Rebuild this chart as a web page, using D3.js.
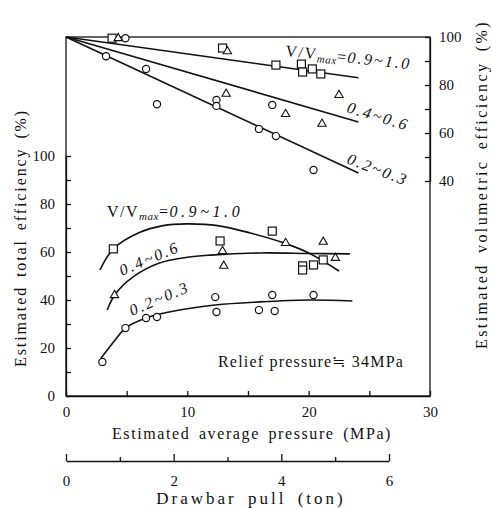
<!DOCTYPE html>
<meta charset="utf-8">
<script src="https://d3js.org/d3.v7.min.js"></script>
<body style="margin:0;background:#fff">
<div id="chart"></div>
<script>
// --- tick labels
var pressureTicks = [0, 10, 20, 30];
var totalTicks = [0, 20, 40, 60, 80, 100];
var volTicks = [40, 60, 80, 100];
var pullTicks = [0, 2, 4, 6];

// --- volumetric efficiency (right axis), straight fit lines [pressure, %]
var volLine90 = [[0, 100], [24.1, 83]];
var volLine40 = [[0, 100], [24.1, 64.6]];
var volLine20 = [[0, 100], [24.1, 43.3]];

var volSquares = [[3.8, 99.5], [12.9, 95.4], [17.3, 88.3], [19.4, 88.7], [19.5, 85.4], [20.3, 86.7], [21.0, 84.6]];
var volTriangles = [[4.3, 99.5], [13.3, 94], [13.2, 76.3], [18.1, 67.9], [21.1, 63.8], [22.5, 75.8]];
var volCircles = [[4.9, 99.5], [3.3, 92], [6.6, 86.7], [7.5, 72], [12.4, 73.8], [12.4, 71.3], [15.9, 61.7], [17.0, 71.7], [17.3, 58.7], [20.4, 44.6]];

// --- total efficiency (left axis), fitted curves
var totCurve90 = [[2.8, 52.5], [3.9, 61.3], [6, 68], [8, 71], [10, 71.7], [12.5, 71], [15.2, 67.9], [18, 63.7], [20, 59.6], [22.5, 52.1]];
var totCurve40 = [[3.4, 35.8], [4.0, 42], [5.5, 49.5], [7.7, 55.4], [10, 57.8], [11.9, 58.7], [16, 59.6], [20, 59.4], [23.4, 59.2]];
var totCurve20 = [[2.9, 15.8], [4.0, 23], [4.9, 28.3], [6.6, 32.5], [8.5, 35], [12.3, 37.9], [16, 39.2], [20, 40], [23.6, 39.6]];

var totSquares = [[3.9, 61.3], [12.7, 64.6], [17.0, 68.7], [19.5, 54.2], [19.5, 52.5], [20.4, 54.6], [21.2, 56.7]];
var totTriangles = [[4.0, 42], [12.9, 60.4], [13.0, 54.2], [18.1, 63.7], [21.2, 64.2], [22.2, 57.5]];
var totCircles = [[3.0, 14.2], [4.9, 28.3], [6.6, 32.5], [7.5, 32.9], [12.3, 41.2], [12.4, 35], [15.9, 35.8], [17.0, 42.1], [17.2, 35.4], [20.4, 42.1]];

var FONT = "'Liberation Serif'";
var INK = "#111";
var W = 492, H = 508;
var svg = d3.select("#chart").append("svg")
    .attr("width", W).attr("height", H);

var x = d3.scaleLinear().domain([0, 30]).range([66, 430]);
var yL = d3.scaleLinear().domain([0, 100]).range([396, 156]);
var yR = d3.scaleLinear().domain([40, 100]).range([181, 37]);
var pull = d3.scaleLinear().domain([0, 6]).range([66, 389]);

// frame
svg.append("rect")
    .attr("x", x(0)).attr("y", 37)
    .attr("width", x(30) - x(0)).attr("height", yL(0) - 37)
    .attr("fill", "none").attr("stroke", INK).attr("stroke-width", 1.3);

function styleAxis(g) {
    g.selectAll("path, line").attr("stroke", INK).attr("stroke-width", 1.3);
    g.selectAll("text").style("font-size", "15px").attr("fill", INK);
}

// bottom axis
svg.append("g")
    .attr("transform", "translate(0," + yL(0) + ")")
    .call(d3.axisBottom(x).tickValues(d3.range(0, 31, 5))
        .tickSizeInner(-5).tickSizeOuter(0).tickPadding(10)
        .tickFormat(function(d) { return pressureTicks.indexOf(d) >= 0 ? d : ""; }))
    .call(styleAxis);

// left axis
svg.append("g")
    .attr("transform", "translate(" + x(0) + ",0)")
    .call(d3.axisLeft(yL).tickValues(d3.range(0, 101, 10))
        .tickSizeInner(-5).tickSizeOuter(0).tickPadding(11)
        .tickFormat(function(d) { return totalTicks.indexOf(d) >= 0 ? d : ""; }))
    .call(styleAxis);

// right axis
svg.append("g")
    .attr("transform", "translate(" + x(30) + ",0)")
    .call(d3.axisRight(yR).tickValues(d3.range(40, 101, 10))
        .tickSizeInner(-5).tickSizeOuter(0).tickPadding(9)
        .tickFormat(function(d) { return volTicks.indexOf(d) >= 0 ? d : ""; }))
    .call(styleAxis);

// drawbar pull axis
var pullAxis = svg.append("g")
    .attr("transform", "translate(0,461)");
pullAxis.call(d3.axisBottom(pull).tickValues(d3.range(0, 7, 1))
    .tickSizeInner(-4).tickSizeOuter(0).tickPadding(14)
    .tickFormat(function(d) { return pullTicks.indexOf(d) >= 0 ? d : ""; }))
    .call(styleAxis);
pullAxis.selectAll(".tick line")
    .attr("y2", function(d) { return d % 2 == 0 ? -7 : -4; });

// axis titles
function title(tx, ty, ang, anchor, size, ls, ws, s) {
    svg.append("text")
        .attr("transform", "translate(" + tx + "," + ty + ") rotate(" + ang + ")")
        .attr("text-anchor", anchor).attr("fill", INK)
        .style("font-size", size + "px").style("letter-spacing", ls + "px").style("word-spacing", ws + "px")
        .text(s);
}
title(252, 439, 0, "middle", 16, 1.6, 3, "Estimated average pressure (MPa)");
title(251, 504, 0, "middle", 17, 3.0, 4, "Drawbar pull (ton)");
title(26, 367, -90, "start", 16, 1.9, 3, "Estimated total efficiency (%)");
title(487, 349, -90, "start", 16, 2.4, 4, "Estimated volumetric efficiency (%)");

// lines
var lineR = d3.line().x(function(d) { return x(d[0]); }).y(function(d) { return yR(d[1]); });
var curveL = d3.line().curve(d3.curveCatmullRom.alpha(0.5))
    .x(function(d) { return x(d[0]); }).y(function(d) { return yL(d[1]); });

[volLine90, volLine40, volLine20].forEach(function(l) {
    svg.append("path").datum(l).attr("d", lineR)
        .attr("fill", "none").attr("stroke", INK).attr("stroke-width", 1.6);
});
[totCurve90, totCurve40, totCurve20].forEach(function(l) {
    svg.append("path").datum(l).attr("d", curveL)
        .attr("fill", "none").attr("stroke", INK).attr("stroke-width", 1.6);
});

// markers
function squares(data, y) {
    svg.append("g").selectAll("rect").data(data).enter().append("rect")
        .attr("x", function(d) { return x(d[0]) - 4; })
        .attr("y", function(d) { return y(d[1]) - 4; })
        .attr("width", 8).attr("height", 8)
        .attr("fill", "#fff").attr("stroke", INK).attr("stroke-width", 1.2);
}
function circles(data, y) {
    svg.append("g").selectAll("circle").data(data).enter().append("circle")
        .attr("cx", function(d) { return x(d[0]); })
        .attr("cy", function(d) { return y(d[1]); })
        .attr("r", 3.6)
        .attr("fill", "#fff").attr("stroke", INK).attr("stroke-width", 1.2);
}
function triangles(data, y) {
    svg.append("g").selectAll("path").data(data).enter().append("path")
        .attr("d", d3.symbol().type(d3.symbolTriangle).size(30))
        .attr("transform", function(d) { return "translate(" + x(d[0]) + "," + y(d[1]) + ")"; })
        .attr("fill", "#fff").attr("stroke", INK).attr("stroke-width", 1.1);
}
squares(volSquares, yR); triangles(volTriangles, yR); circles(volCircles, yR);
squares(totSquares, yL); triangles(totTriangles, yL); circles(totCircles, yL);

// curve labels
function vLabel(tx, ty, ang, ls, rest) {
    var t = svg.append("text")
        .attr("transform", "translate(" + tx + "," + ty + ") rotate(" + ang + ")")
        .attr("fill", INK)
        .style("font-size", "16px").style("letter-spacing", "1.5px");
    t.append("tspan").text("V/V");
    t.append("tspan").attr("dy", 3).style("font-size", "11px").style("font-style", "italic")
        .style("letter-spacing", "0.5px").text("max");
    t.append("tspan").attr("dy", -3).text("=");
    t.append("tspan").style("font-style", "italic").style("letter-spacing", ls + "px").text(rest);
}
function numLabel(tx, ty, ang, s) {
    svg.append("text")
        .attr("transform", "translate(" + tx + "," + ty + ") rotate(" + ang + ")")
        .attr("fill", INK)
        .style("font-size", "16px").style("font-style", "italic").style("letter-spacing", "2.2px")
        .text(s);
}
vLabel(285, 56, 6, 2.2, "0.9~1.0");
numLabel(346, 112, 17, "0.4~0.6");
numLabel(346, 163, 21, "0.2~0.3");
vLabel(107, 217, 0, 3.6, "0.9~1.0");
numLabel(122, 276, -23, "0.4~0.6");
numLabel(132, 316, -23, "0.2~0.3");

svg.append("text").attr("x", 218).attr("y", 367)
    .attr("fill", INK)
    .style("font-size", "16px").style("letter-spacing", "1.2px")
    .text("Relief pressure\u2252 34MPa");

// set the serif face directly on every text node
svg.selectAll("text, tspan").style("font-family", FONT);
</script>
</body>
